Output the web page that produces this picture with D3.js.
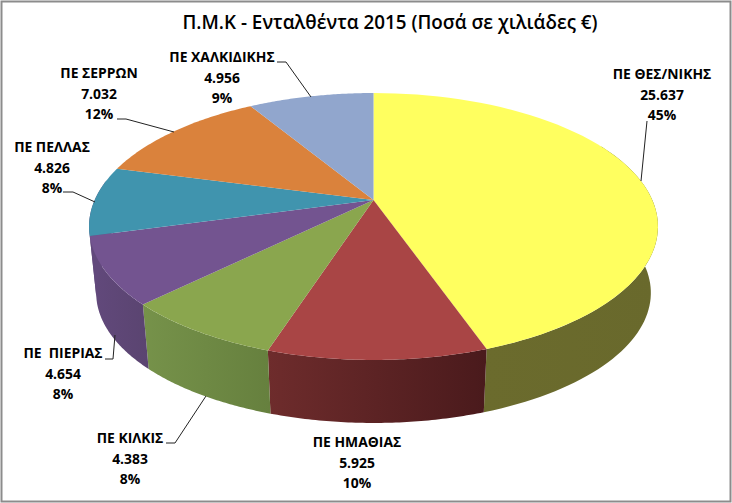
<!DOCTYPE html>
<html><head><meta charset="utf-8">
<script src="https://cdn.jsdelivr.net/npm/d3@7"></script>
<style>html,body{margin:0;padding:0;background:#fff}svg{display:block}
text{font-family:"Open Sans",sans-serif;font-weight:700;fill:#000}</style>
</head><body><svg id="c" width="732" height="503"></svg>
<script>
const categories=["ΠΕ ΘΕΣ/ΝΙΚΗΣ","ΠΕ ΗΜΑΘΙΑΣ","ΠΕ ΚΙΛΚΙΣ","ΠΕ  ΠΙΕΡΙΑΣ","ΠΕ ΠΕΛΛΑΣ","ΠΕ ΣΕΡΡΩΝ","ΠΕ ΧΑΛΚΙΔΙΚΗΣ"];
const values=[25637,5925,4383,4654,4826,7032,4956];
const valueLabels=["25.637","5.925","4.383","4.654","4.826","7.032","4.956"];
const percentLabels=["45%","10%","8%","8%","8%","12%","9%"];
const topColors=["#ffff5f","#a94545","#8aa64e","#735490","#4094ae","#da823c","#91a6cd"];
const sideLeft=["#6b6b2d","#6e2c2c","#76924a","#62497c","#62497c","#b56c30","#788aaa"];
const sideRight=["#69692c","#4a1a1c","#66803e","#5a4470","#62497c","#b56c30","#788aaa"];
const title="Π.Μ.Κ - Ενταλθέντα 2015 (Ποσά σε χιλιάδες €)";
const labelPos=[[662,79],[357,447],[130,443],[63,358],[52,152],[99,78],[222,62]];
const leaders=[
 [[647,121],[641,181]],
 null,
 [[166,443],[175,443],[206,396]],
 [[105,359],[113,359],[115,335]],
 [[63,192],[73,192],[95,202]],
 [[117,119],[126,119],[174,132]],
 [[277,62],[286,62],[311,97]]];

const svg=d3.select("#c");
svg.append("rect").attr("x",1.5).attr("y",1.5).attr("width",729).attr("height",500)
  .attr("fill","#fff").attr("stroke","#8c8c8c").attr("stroke-width",2);

const cx=373.5,apexY=200,A=128.2,B=278.8,k=0.1985,baseScale=0.975,depth=67;
const topPt=t=>{const u=Math.sin(t),v=-Math.cos(t),w=1-k*v;return [cx+B*u/w,apexY+A*v/w];};
const basePt=t=>{const p=topPt(t);return [cx+(p[0]-cx)*baseScale,apexY+(p[1]-apexY)*baseScale+depth];};
const pie=d3.pie().sort(null).value(d=>d)(values);
const arcAngles=(a,b)=>d3.range(0,61).map(i=>a+(b-a)*i/60);
const line=d3.line();

const defs=svg.append("defs");
const g=svg.append("g");
pie.forEach((d,i)=>{
  const a=Math.max(d.startAngle,Math.PI*0.35),b=Math.min(d.endAngle,Math.PI*1.55);
  if(b<=a)return;
  const ang=arcAngles(a,b);
  const pts=ang.map(topPt).concat(ang.slice().reverse().map(basePt));
  const xs=pts.map(p=>p[0]);
  const id="s"+i;
  const gr=defs.append("linearGradient").attr("id",id).attr("gradientUnits","userSpaceOnUse")
    .attr("x1",d3.min(xs)).attr("x2",d3.max(xs)).attr("y1",0).attr("y2",0);
  gr.append("stop").attr("offset",0).attr("stop-color",sideLeft[i]);
  gr.append("stop").attr("offset",1).attr("stop-color",sideRight[i]);
  g.append("path").attr("d",line(pts)+"Z").attr("fill",`url(#${id})`);
});
pie.forEach((d,i)=>{
  const pts=[[cx,apexY]].concat(arcAngles(d.startAngle,d.endAngle).map(topPt));
  g.append("path").attr("d",line(pts)+"Z").attr("fill",topColors[i]);
});
leaders.forEach(l=>{ if(l) svg.append("path").attr("d",line(l)).attr("fill","none").attr("stroke","#222").attr("stroke-width",1);});
const fs=13.9, lh=20.5;
categories.forEach((c,i)=>{
  const [x,y]=labelPos[i];
  const t=svg.append("text").attr("text-anchor","middle").attr("font-size",fs).style("white-space","pre");
  [c,valueLabels[i],percentLabels[i]].forEach((s,j)=>t.append("tspan").attr("x",x).attr("y",y+j*lh).text(s));
});
svg.append("text").attr("x",390).attr("y",28.5).attr("text-anchor","middle").attr("font-size",18.85).style("font-weight",600).text(title);
</script></body></html>
